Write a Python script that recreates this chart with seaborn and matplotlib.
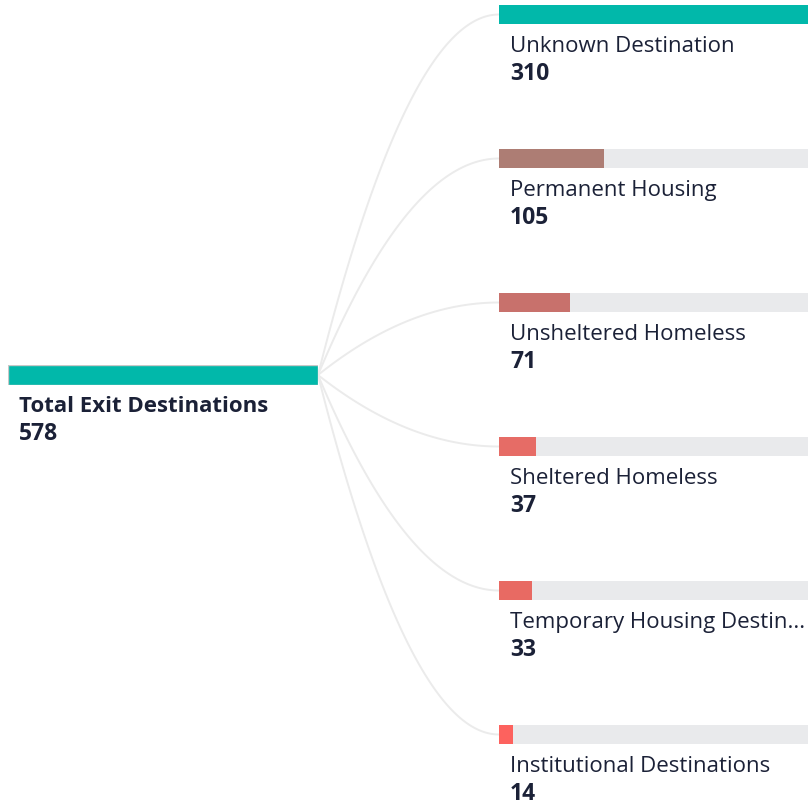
import matplotlib
matplotlib.use('Agg')
import matplotlib.pyplot as plt
import seaborn as sns
import numpy as np

# dados
raiz_nome = 'Total Exit Destinations'
raiz_valor = 578
categorias = ['Unknown Destination', 'Permanent Housing', 'Unsheltered Homeless',
              'Sheltered Homeless', 'Temporary Housing Destin...', 'Institutional Destinations']
valores = [310, 105, 71, 37, 33, 14]
cores = ['#01B8AA', '#AD7D74', '#C8716C', '#E66C66', '#E86A63', '#FD625E']

# estilo
cor_texto = '#1B2137'
cor_fundo_barra = '#E9EAEC'
cor_curva = '#EBEBEB'
fonte = ['Open Sans', 'DejaVu Sans']

sns.set_theme(style='white')
plt.rcParams['font.family'] = fonte

W = H = 808
fig = plt.figure(figsize=(W / 100, H / 100), dpi=100)
ax = fig.add_axes([0, 0, 1, 1])
ax.set_xlim(0, W)
ax.set_ylim(H, 0)
ax.axis('off')


def eixo_barra(x, y, w, h):
    # cria um eixo em coordenadas de pixel
    return fig.add_axes([x / W, 1 - (y + h) / H, w / W, h / H])


# barra raiz
rx0, rx1, ry, rh = 8, 318, 365, 20
ax_r = eixo_barra(rx0, ry, rx1 - rx0, rh)
sns.barplot(x=[raiz_valor], y=[0], orient='h', color=cores[0], width=1,
            saturation=1, ax=ax_r, edgecolor='#C8C8C8', linewidth=1)
ax_r.set_xlim(0, raiz_valor)
ax_r.axis('off')
ax.text(19, 406, raiz_nome, fontsize=16, fontweight='bold', color=cor_texto, va='center', ha='left')
ax.text(19, 434, f'{raiz_valor}', fontsize=16.5, fontweight='bold', color=cor_texto, va='center', ha='left')

# filhos
cx0, cx1, ch = 499, 808, 19
passo = 144
maximo = max(valores)
for i, (nome, v, c) in enumerate(zip(categorias, valores, cores)):
    y = 5 + i * passo
    yc = y + ch / 2
    # curva ligando raiz ao filho (bezier quadratica)
    t = np.linspace(0, 1, 100)
    p0 = np.array([rx1, ry + rh / 2])
    p1 = np.array([(rx1 + cx0) / 2, yc])
    p2 = np.array([cx0, yc])
    pts = ((1 - t) ** 2)[:, None] * p0 + (2 * t * (1 - t))[:, None] * p1 + (t ** 2)[:, None] * p2
    ax.plot(pts[:, 0], pts[:, 1], color=cor_curva, lw=1.4, zorder=0, solid_capstyle='round')

    ax_b = eixo_barra(cx0, y, cx1 - cx0, ch)
    sns.barplot(x=[maximo], y=[0], orient='h', color=cor_fundo_barra, width=1,
                saturation=1, ax=ax_b, linewidth=0)
    sns.barplot(x=[v], y=[0], orient='h', color=c, width=1,
                saturation=1, ax=ax_b, linewidth=0)
    ax_b.set_xlim(0, maximo)
    ax_b.axis('off')

    ax.text(510, y + 41.5, nome, fontsize=16, color=cor_texto, va='center', ha='left')
    ax.text(510, y + 69.5, f'{v}', fontsize=16.5, fontweight='bold', color=cor_texto, va='center', ha='left')

fig.savefig('out.png', dpi=100, facecolor='white')
